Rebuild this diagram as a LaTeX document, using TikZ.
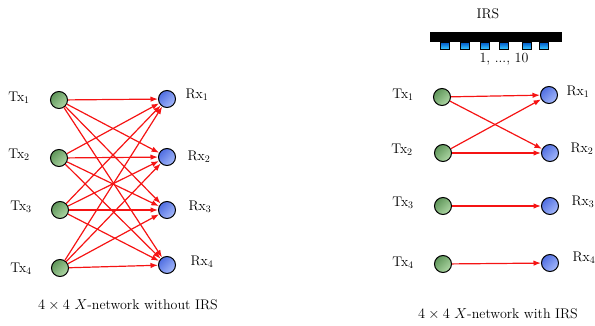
\documentclass[tikz,border=0pt]{standalone}
\usetikzlibrary{arrows.meta}
\definecolor{txdark}{RGB}{95,150,90}
\definecolor{txlight}{RGB}{175,215,165}
\definecolor{rxdark}{RGB}{80,110,225}
\definecolor{rxlight}{RGB}{165,185,250}
\definecolor{linkred}{RGB}{245,20,20}
\definecolor{elemdark}{RGB}{0,90,200}
\definecolor{elemlight}{RGB}{60,200,255}
\begin{document}
\begin{tikzpicture}[x=1pt,y=-1pt,
  tx/.style={circle,draw=black,line width=1pt,minimum size=17pt,inner sep=0pt,
    shading=axis,left color=txdark,right color=txlight,shading angle=45},
  rx/.style={circle,draw=black,line width=1pt,minimum size=17pt,inner sep=0pt,
    shading=axis,left color=rxdark,right color=rxlight,shading angle=45},
  lbl/.style={font=\fontsize{14}{16}\selectfont,inner sep=0pt},
  link/.style={draw=linkred,line width=1.2pt,-{Latex[length=7.5pt,width=5.5pt]}},
  elem/.style={draw=black,line width=0.6pt,top color=elemdark,bottom color=elemlight}]
\useasboundingbox (0,0) rectangle (595,326);

% left network: full 4x4 connectivity
\node[tx] (lt1) at (59,100) {};
\node[tx] (lt2) at (59,158) {};
\node[tx] (lt3) at (60,210) {};
\node[tx] (lt4) at (60,268) {};
\node[rx] (lr1) at (167,99) {};
\node[rx] (lr2) at (167,157) {};
\node[rx] (lr3) at (167,210) {};
\node[rx] (lr4) at (167,265) {};
\node[lbl] (ltl1) at (19,98) {Tx$_1$};
\node[lbl] (ltl2) at (19,155) {Tx$_2$};
\node[lbl] (ltl3) at (21,207) {Tx$_3$};
\node[lbl] (ltl4) at (21,269) {Tx$_4$};
\node[lbl] (lrl1) at (197,95) {Rx$_1$};
\node[lbl] (lrl2) at (199,157) {Rx$_2$};
\node[lbl] (lrl3) at (200,207) {Rx$_3$};
\node[lbl] (lrl4) at (202,262) {Rx$_4$};
\foreach \i in {1,...,4}{
  \foreach \j in {1,...,4}{
    \draw[link] (lt\i) -- (lr\j);
  }
}
\node[lbl] (lcap) at (128,305) {$4\times4$ $X$-network without IRS};

% right network: IRS separates the streams
\node[tx] (rt1) at (442,97) {};
\node[tx] (rt2) at (443,153) {};
\node[tx] (rt3) at (443,206) {};
\node[tx] (rt4) at (443,264) {};
\node[rx] (rr1) at (549,95) {};
\node[rx] (rr2) at (550,153) {};
\node[rx] (rr3) at (550,206) {};
\node[rx] (rr4) at (550,263) {};
\node[lbl] (rtl1) at (403,95) {Tx$_1$};
\node[lbl] (rtl2) at (402,150) {Tx$_2$};
\node[lbl] (rtl3) at (403,203) {Tx$_3$};
\node[lbl] (rtl4) at (403,263) {Tx$_4$};
\node[lbl] (rrl1) at (578,92) {Rx$_1$};
\node[lbl] (rrl2) at (582,149) {Rx$_2$};
\node[lbl] (rrl3) at (583,202) {Rx$_3$};
\node[lbl] (rrl4) at (584,258) {Rx$_4$};
\draw[link] (rt1) -- (rr1);
\draw[link] (rt1) -- (rr2);
\draw[link] (rt2) -- (rr1);
\draw[link] (rt2) -- (rr2);
\draw[link] (rt3) -- (rr3);
\draw[link] (rt4) -- (rr4);
\node[lbl] (rcap) at (498,314) {$4\times4$ $X$-network with IRS};

% IRS panel with its reflecting elements
\node[lbl] (irs) at (488,14) {IRS};
\fill[black] (430,32) rectangle (562,42.5);
\foreach \x in {445,465,484.5,503.5,526.5,543.5}{
  \draw[elem] (\x-4.5,42.5) rectangle (\x+4.5,49);
}
\node[lbl] (idx) at (504,59) {1, ..., 10};
\end{tikzpicture}
\end{document}
